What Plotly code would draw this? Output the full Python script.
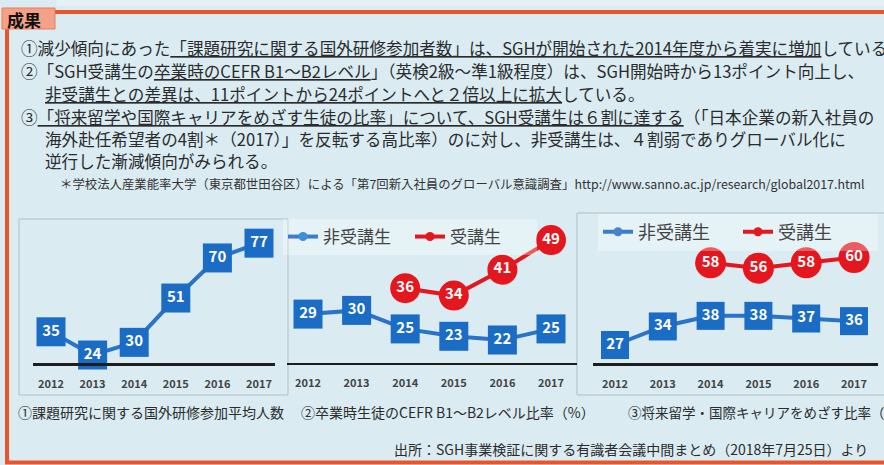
import plotly.graph_objects as go

W, H = 884, 465

# ---------------- data ----------------
years = [2012, 2013, 2014, 2015, 2016, 2017]
year_labels = ["2012", "2013", "2014", "2015", "2016", "2017"]
sgh_years = [2014, 2015, 2016, 2017]

c1_participants = [35, 24, 30, 51, 70, 77]
c2_non = [29, 30, 25, 23, 22, 25]
c2_sgh = [36, 34, 41, 49]
c3_non = [27, 34, 38, 38, 37, 36]
c3_sgh = [58, 56, 58, 60]

legend_non = "非受講生"
legend_sgh = "受講生"

captions = [
    "①課題研究に関する国外研修参加平均人数",
    "②卒業時生徒のCEFR B1～B2レベル比率（%）",
    "③将来留学・国際キャリアをめざす比率（%）",
]

# ---------------- helpers ----------------
def px(x):
    return x / W

def py(y):
    return 1 - y / H

FONT = "Noto Sans CJK JP"
BG = "#daecf2"
ORANGE = "#e9552b"
BLUE = "#1b6cc4"
BLUE_LINE = "#2a73c9"
RED = "#e4171f"
TXT = "#2b2b2b"

fig = go.Figure()

def add_series(xs, ys, axis, color, linecolor, symbol, size):
    fig.add_trace(go.Scatter(
        x=xs, y=ys, xaxis="x" + axis, yaxis="y" + axis,
        mode="lines+markers+text",
        line=dict(color=linecolor, width=4),
        marker=dict(symbol=symbol, size=size, color=color, line=dict(width=0)),
        text=["<b>%d</b>" % v for v in ys],
        textposition="middle center",
        textfont=dict(family=FONT, size=15, color="white"),
        cliponaxis=False, showlegend=False, hoverinfo="skip",
    ))

# chart 1
add_series(years, c1_participants, "", BLUE, BLUE_LINE, "square", 29)
# chart 2
add_series(years, c2_non, "2", BLUE, BLUE_LINE, "square", 29)
add_series(sgh_years, c2_sgh, "2", RED, RED, "circle", 30)
# chart 3
add_series(years, c3_non, "3", BLUE, BLUE_LINE, "square", 28)
add_series(sgh_years, c3_sgh, "3", RED, RED, "circle", 31)

# legend-only entries
for lg, ax in (("legend2", "2"), ("legend3", "3")):
    fig.add_trace(go.Scatter(x=[None], y=[None], xaxis="x" + ax, yaxis="y" + ax,
                             mode="lines+markers", name=legend_non,
                             line=dict(color="#3b7dcc", width=4),
                             marker=dict(size=9, color="#3d8fd6" if ax == "2" else "#4a82cf"),
                             legend=lg, showlegend=True))
    fig.add_trace(go.Scatter(x=[None], y=[None], xaxis="x" + ax, yaxis="y" + ax,
                             mode="lines+markers", name=legend_sgh,
                             line=dict(color=RED, width=4),
                             marker=dict(size=9, color=RED),
                             legend=lg, showlegend=True))

def xaxis(domain, first_px, step, lw):
    x0, x1 = domain
    lo = 2012 + (x0 - first_px) / step
    hi = 2012 + (x1 - first_px) / step
    return dict(domain=[px(x0), px(x1)], range=[lo, hi], showgrid=False, zeroline=False,
                showline=True, linecolor="#1e1e1e", linewidth=lw,
                tickvals=years, ticktext=year_labels, ticks="outside", ticklen=9,
                tickcolor="rgba(0,0,0,0)",
                tickfont=dict(family=FONT, size=11, color="#444", weight="bold"),
                fixedrange=True)

def yaxis(ref_val, ref_px, scale, anchor):
    lo = ref_val - (363 - ref_px) / scale
    hi = ref_val + (ref_px - 220) / scale
    return dict(domain=[py(363), py(220)], range=[lo, hi], visible=False,
                anchor=anchor, fixedrange=True)

layout = dict(
    width=W, height=H, margin=dict(l=0, r=0, t=0, b=0),
    paper_bgcolor=BG, plot_bgcolor="rgba(0,0,0,0)",
    xaxis=xaxis((33, 275), 51, 41.6, 3),
    yaxis=yaxis(24, 355, 2.11, "x"),
    xaxis2=xaxis((287, 577), 308, 48.6, 2),
    yaxis2=yaxis(22, 340, 3.7, "x2"),
    xaxis3=xaxis((593, 878), 615, 47.8, 3),
    yaxis3=yaxis(27, 345, 2.65, "x3"),
    font=dict(family=FONT, color=TXT),
    legend2=dict(x=px(283), y=py(237), xanchor="left", yanchor="middle", orientation="h",
                 font=dict(family=FONT, size=17, color="#444"),
                 bgcolor="rgba(255,255,255,0.3)", entrywidth=82, entrywidthmode="pixels",
                 itemclick=False, itemdoubleclick=False),
    legend3=dict(x=px(598), y=py(232), xanchor="left", yanchor="middle", orientation="h",
                 font=dict(family=FONT, size=18, color="#444"),
                 bgcolor="rgba(255,255,255,0.3)", entrywidth=95, entrywidthmode="pixels",
                 itemclick=False, itemdoubleclick=False),
)
layout["xaxis"]["anchor"] = "y"
layout["xaxis2"]["anchor"] = "y2"
layout["xaxis3"]["anchor"] = "y3"
fig.update_layout(**layout)

shapes = []
def rect(x0, y0, x1, y1, **kw):
    shapes.append(dict(type="rect", xref="paper", yref="paper",
                       x0=px(x0), x1=px(x1), y0=py(y1), y1=py(y0), **kw))
def line(x0, y0, x1, y1, color, width):
    shapes.append(dict(type="line", xref="paper", yref="paper",
                       x0=px(x0), x1=px(x1), y0=py(y0), y1=py(y1),
                       line=dict(color=color, width=width)))

# top light strip
rect(57, 0, 884, 6, fillcolor="#e6f1f6", line=dict(width=0), layer="below")
# chart frames
rect(19, 219, 288, 395, line=dict(color="#b4bfc4", width=1), layer="below")
rect(577, 213, 890, 395, line=dict(color="#b4bfc4", width=1), layer="below")
# orange border
line(40, 12, 884, 12, ORANGE, 4)
line(7, 12, 7, 463, ORANGE, 4)
line(5, 462.5, 884, 462.5, ORANGE, 4)
# 成果 label
rect(2, 8, 55, 29, fillcolor="#f4a187", line=dict(color="#ef7b55", width=1))
fig.update_layout(shapes=shapes)

ann = []
def text(x, y, s, size, color=TXT, anchor="left", weight="normal"):
    ann.append(dict(x=px(x), y=py(y), xref="paper", yref="paper", text=s, showarrow=False,
                    xanchor=anchor, yanchor="middle",
                    font=dict(family=FONT, size=size, color=color, weight=weight)))

text(5, 19, "成果", 17, "#111", weight="bold")
BODY = 16.6
text(19, 48, "①減少傾向にあった<u>「課題研究に関する国外研修参加者数」は、SGHが開始された2014年度から着実に増加</u>している", BODY)
text(19, 71, "②「SGH受講生の<u>卒業時のCEFR B1～B2レベル</u>」（英検2級～準1級程度）は、SGH開始時から13ポイント向上し、", BODY)
text(43, 94, "<u>非受講生との差異は、11ポイントから24ポイントへと２倍以上に拡大</u>している。", BODY)
text(19, 117, "③<u>「将来留学や国際キャリアをめざす生徒の比率」について、SGH受講生は６割に達する</u>（「日本企業の新入社員の", BODY)
text(43, 139, "海外赴任希望者の4割＊（2017）」を反転する高比率）のに対し、非受講生は、４割弱でありグローバル化に", BODY)
text(43, 161, "逆行した漸減傾向がみられる。", BODY)
text(58, 184, "＊学校法人産業能率大学（東京都世田谷区）による「第7回新入社員のグローバル意識調査」http://www.sanno.ac.jp/research/global2017.html", 12.4, "#333")

text(16, 412, captions[0], 14)
text(299, 412, captions[1], 14)
text(626, 412, captions[2], 13.5)
text(392, 449, "出所：SGH事業検証に関する有識者会議中間まとめ（2018年7月25日）より", 14)
fig.update_layout(annotations=ann)

fig.write_html("out.html", config={"displayModeBar": False, "staticPlot": True},
               post_script="document.body.style.margin='0';document.body.style.overflow='hidden';")
